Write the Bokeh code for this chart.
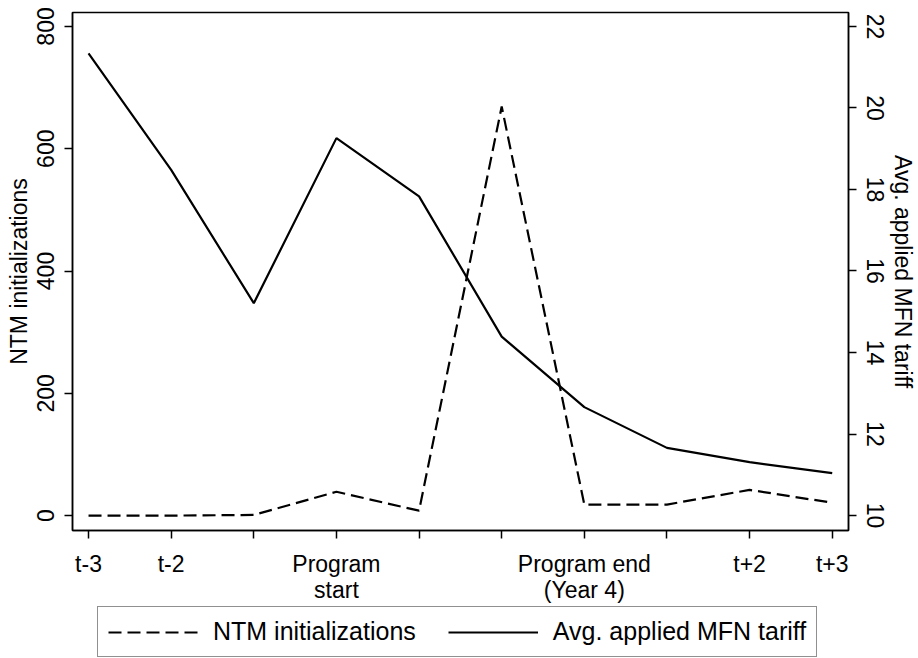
from bokeh.plotting import figure
from bokeh.models import Range1d, LinearAxis, FixedTicker, Legend, LegendItem
from bokeh.layouts import column
from bokeh.embed import file_html
from bokeh.resources import INLINE

# ---- data ----
x_idx = [0, 1, 2, 3, 4, 5, 6, 7, 8, 9]
period_labels = ["t-3", "t-2", "", "Program\nstart", "", "", "Program end\n(Year 4)", "", "t+2", "t+3"]
ntm_initializations = [0, 0, 1, 39, 8, 669, 18, 18, 42, 21]
avg_mfn_tariff = [21.34, 18.48, 15.21, 19.26, 17.83, 14.39, 12.66, 11.66, 11.31, 11.04]
left_ticks = [0, 200, 400, 600, 800]
right_ticks = [10, 12, 14, 16, 18, 20, 22]
series_names = ["NTM initializations", "Avg. applied MFN tariff"]

FONT = "Liberation Sans"
FS = "23px"
DASH = "13 6"

p = figure(width=918, height=605, output_backend="svg", toolbar_location=None,
           x_range=Range1d(-0.194, 9.197), y_range=Range1d(-24.4, 822.8),
           min_border_left=72, min_border_right=70, min_border_top=12, min_border_bottom=73,
           background_fill_color="white", border_fill_color="white")
p.extra_y_ranges = {"tariff": Range1d(9.633, 22.342)}
p.grid.visible = False
p.outline_line_color = "black"
p.outline_line_width = 1.5

p.line(x_idx, ntm_initializations, line_color="black", line_width=2.2, line_dash=DASH)
p.line(x_idx, avg_mfn_tariff, y_range_name="tariff", line_color="black", line_width=2.2)

def style_axis(ax):
    ax.axis_line_color = "black"
    ax.axis_line_width = 1.5
    ax.major_tick_line_color = "black"
    ax.major_tick_line_width = 1.5
    ax.major_tick_in = 0
    ax.major_tick_out = 8
    ax.minor_tick_line_color = None
    ax.major_label_text_font = FONT
    ax.major_label_text_font_size = FS
    ax.major_label_text_color = "black"
    ax.axis_label_text_font = FONT
    ax.axis_label_text_font_size = FS
    ax.axis_label_text_font_style = "normal"
    ax.axis_label_text_color = "black"

# x axis
xa = p.xaxis[0]
style_axis(xa)
xa.ticker = FixedTicker(ticks=x_idx)
xa.major_label_overrides = {i: lab for i, lab in zip(x_idx, period_labels)}
xa.major_label_standoff = 12
xa.major_label_text_line_height = 1.0

# left axis
ya = p.yaxis[0]
style_axis(ya)
ya.ticker = FixedTicker(ticks=left_ticks)
ya.major_label_orientation = "vertical"
ya.major_label_standoff = 10
ya.axis_label = series_names[0]
ya.axis_label_standoff = 3

# right axis
ra = LinearAxis(y_range_name="tariff", ticker=FixedTicker(ticks=right_ticks))
style_axis(ra)
ra.major_label_orientation = "vertical"
ra.major_label_standoff = 10
ra.axis_label = series_names[1]
ra.axis_label_standoff = 3
p.add_layout(ra, "right")

# legend strip below the plot
p2 = figure(width=918, height=53, output_backend="svg", toolbar_location=None,
            x_range=Range1d(0, 1), y_range=Range1d(0, 1),
            min_border_left=72, min_border_right=70, min_border_top=0, min_border_bottom=0,
            background_fill_color="white", border_fill_color="white")
p2.axis.visible = False
p2.grid.visible = False
p2.outline_line_color = None
k1 = p2.line([-10, -9], [-10, -10], line_color="black", line_width=2.2, line_dash=DASH)
k2 = p2.line([-10, -9], [-10, -10], line_color="black", line_width=2.2)

legend = Legend(items=[LegendItem(label=series_names[0], renderers=[k1]),
                       LegendItem(label=series_names[1], renderers=[k2])],
                orientation="horizontal", location=(25, 1),
                glyph_width=90, glyph_height=26, label_standoff=15, spacing=32, padding=10,
                label_text_font=FONT, label_text_font_size="25px", label_text_color="black",
                border_line_color="#222222", border_line_width=1.5,
                background_fill_color="white", background_fill_alpha=1.0, margin=0)
p2.add_layout(legend)

layout = column(p, p2, spacing=0)
open("out.html", "w").write(file_html(layout, INLINE))
